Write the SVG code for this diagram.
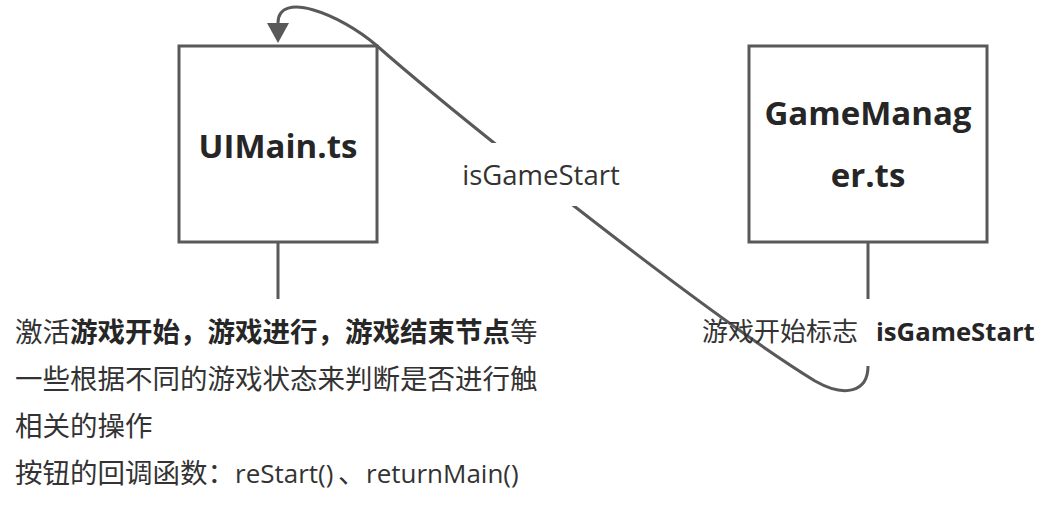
<svg xmlns="http://www.w3.org/2000/svg" width="1049" height="510" viewBox="0 0 1049 510">
<style>
.box{fill:#fff;stroke:#595959;stroke-width:3}
.ln{fill:none;stroke:#595959;stroke-width:3}
.t{font-family:"Open Sans","Noto Sans CJK SC",sans-serif;fill:#333}
.title{font-size:33px;font-weight:bold;fill:#262626;text-anchor:middle}
.note{font-size:27.5px}
.b{font-weight:bold;fill:#262626}
</style>
<defs>
<marker id="arr" viewBox="0 0 20 22" refX="0" refY="11" markerWidth="20" markerHeight="22" markerUnits="userSpaceOnUse" orient="auto">
<path d="M0,0 L20,11 L0,22 z" fill="#595959"/>
</marker>
</defs>
<rect width="1049" height="510" fill="#fff"/>
<g id="connectors">
<path class="ln" d="M278,243 L278,299"/>
<path class="ln" d="M868,243 L868,299"/>
<path class="ln" marker-end="url(#arr)" d="M868,366 C868,392 845,398 815,381 C700,310 450,110 376,45 C340,14 278,-10 278,23"/>
<rect x="455" y="143" width="172" height="63" fill="#fff"/>
<text class="t" x="541" y="185" font-size="27.5" text-anchor="middle">isGameStart</text>
</g>
<g id="uimain">
<rect class="box" x="179" y="46" width="198" height="196"/>
<text class="t title" x="278" y="158">UIMain.ts</text>
</g>
<g id="gamemanager">
<rect class="box" x="749" y="46" width="238" height="196"/>
<text class="t title" x="868" y="125">GameManag</text>
<text class="t title" x="868" y="187">er.ts</text>
</g>
<g id="uimain-note">
<text class="t note" x="15" y="342">激活<tspan class="b">游戏开始，游戏进行，游戏结束节点</tspan>等</text>
<text class="t note" x="15" y="389">一些根据不同的游戏状态来判断是否进行触</text>
<text class="t note" x="15" y="436">相关的操作</text>
<text class="t note" x="15" y="483">按钮的回调函数：<tspan x="235" font-size="26">reStart()</tspan><tspan x="338">、</tspan><tspan x="366" font-size="26">returnMain()</tspan></text>
</g>
<g id="gamemanager-note">
<text class="t" x="702" y="341" font-size="26">游戏开始标志 <tspan class="b" x="876" font-size="25.7">isGameStart</tspan></text>
</g>
</svg>
